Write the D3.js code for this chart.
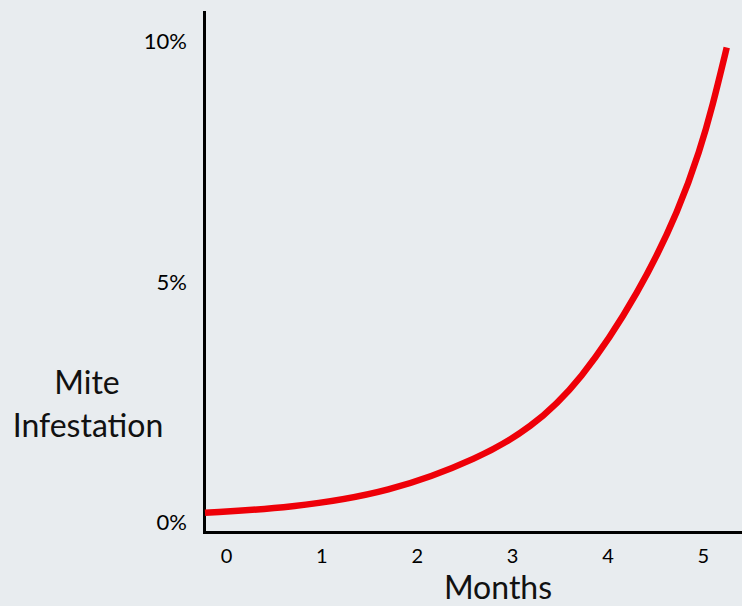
<!DOCTYPE html>
<html>
<head>
<meta charset="utf-8">
<script src="https://cdn.jsdelivr.net/npm/d3@7"></script>
<style>
  html, body { margin: 0; padding: 0; background: #e8ecef; }
  #chart { width: 742px; height: 606px; }
</style>
</head>
<body>
<div id="chart"></div>
<script>
// Values
const months = [-0.22, 0.67, 1.72, 2.66, 3.19, 3.71, 4.34, 4.76, 4.97, 5.10, 5.25];
const infestation = [0.20, 0.30, 0.62, 1.34, 1.95, 2.90, 4.80, 6.55, 7.75, 8.65, 9.88];
const xTicks = [0, 1, 2, 3, 4, 5];
const yTicks = [0, 5, 10];

function MiteGraph(divID) {
  const width = 742;
  const height = 606;
  const fontFamily = 'Lato, "Open Sans", sans-serif';

  d3.select('#' + divID).selectAll('*').remove();

  const svg = d3.select('#' + divID)
    .append('svg')
    .attr('width', width)
    .attr('height', height)
    .attr('viewBox', `0 0 ${width} ${height}`);

  svg.append('rect')
    .attr('width', width)
    .attr('height', height)
    .attr('fill', '#e8ecef');

  const xScale = d3.scaleLinear()
    .domain([-0.23, 5.41])
    .range([204, 742]);

  const yScale = d3.scaleLinear()
    .domain([-0.2, 10.62])
    .range([532, 12]);

  // y-axis
  const yAxis = svg.append('g')
    .attr('class', 'y-axis')
    .attr('transform', `translate(${xScale.range()[0]}, 0)`)
    .call(d3.axisLeft(yScale).tickValues(yTicks).tickSize(0).tickPadding(17).tickFormat(d => d + '%'));

  yAxis.selectAll('text')
    .style('font-family', fontFamily)
    .style('font-size', '22px')
    .style('fill', '#000');

  // x-axis
  const xAxis = svg.append('g')
    .attr('class', 'x-axis')
    .attr('transform', `translate(0, ${yScale.range()[0]})`)
    .call(d3.axisBottom(xScale).tickValues(xTicks).tickSize(0).tickPadding(17).tickFormat(d3.format('d')));

  xAxis.selectAll('text')
    .style('font-family', fontFamily)
    .style('font-size', '20px')
    .style('fill', '#000');

  svg.selectAll('.domain')
    .attr('stroke', '#000')
    .attr('stroke-width', 3)
    .attr('stroke-linecap', 'square');

  // Axis titles
  svg.append('text')
    .attr('x', 87)
    .attr('y', 394)
    .style('text-anchor', 'middle')
    .style('font-family', fontFamily)
    .style('font-size', '32px')
    .style('fill', '#111')
    .text('Mite');

  svg.append('text')
    .attr('x', 88)
    .attr('y', 437)
    .style('text-anchor', 'middle')
    .style('font-family', fontFamily)
    .style('font-size', '32px')
    .style('fill', '#111')
    .text('Infestation');

  svg.append('text')
    .attr('x', 498)
    .attr('y', 599)
    .style('text-anchor', 'middle')
    .style('font-family', fontFamily)
    .style('font-size', '32px')
    .style('fill', '#111')
    .text('Months');

  // Growth curve
  const points = months.map((m, i) => ({month: m, value: infestation[i]}));

  const line = d3.line()
    .x(d => xScale(d.month))
    .y(d => yScale(d.value))
    .curve(d3.curveBasis);

  svg.append('path')
    .datum(points)
    .attr('d', line)
    .attr('fill', 'none')
    .attr('stroke', '#ee0008')
    .attr('stroke-width', 6.5);
}

MiteGraph('chart');
</script>
</body>
</html>
